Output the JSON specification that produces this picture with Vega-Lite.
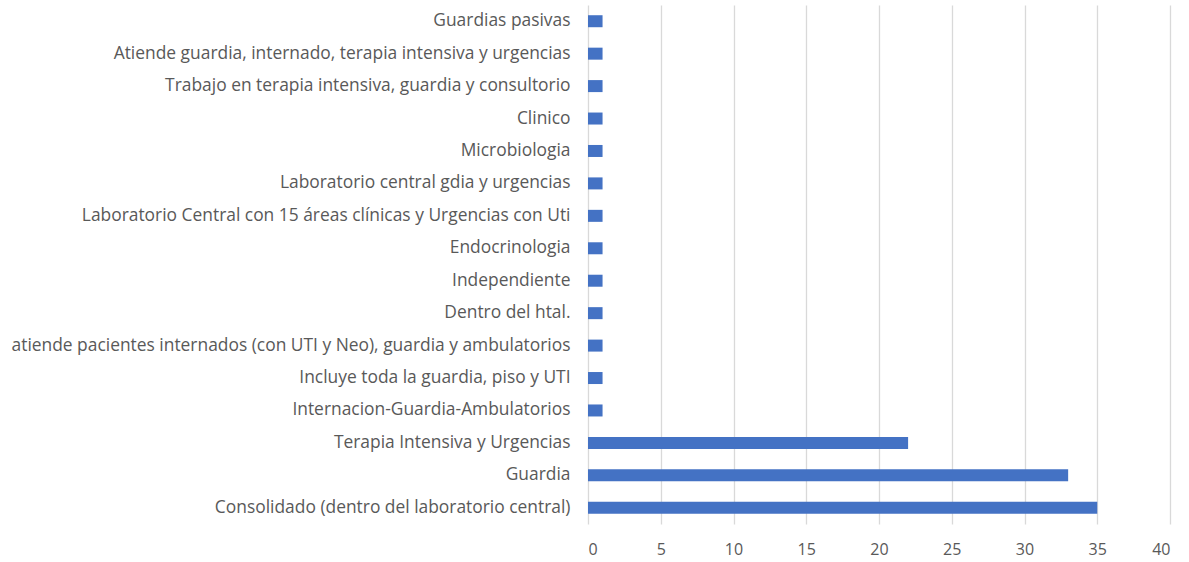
{
  "$schema": "https://vega.github.io/schema/vega-lite/v6.json",
  "autosize": "none",
  "width": 582,
  "height": 519,
  "padding": {"left": 588, "top": 5, "right": 19, "bottom": 38},
  "background": "white",
  "config": {"view": {"stroke": null}},
  "data": {
    "values": [
      {"categoria": "Guardias pasivas", "valor": 1},
      {"categoria": "Atiende guardia, internado, terapia intensiva y urgencias", "valor": 1},
      {"categoria": "Trabajo en terapia intensiva, guardia y consultorio", "valor": 1},
      {"categoria": "Clinico", "valor": 1},
      {"categoria": "Microbiologia", "valor": 1},
      {"categoria": "Laboratorio central gdia y urgencias", "valor": 1},
      {"categoria": "Laboratorio Central con 15 áreas clínicas y Urgencias con Uti", "valor": 1},
      {"categoria": "Endocrinologia", "valor": 1},
      {"categoria": "Independiente", "valor": 1},
      {"categoria": "Dentro del htal.", "valor": 1},
      {"categoria": "atiende pacientes internados (con UTI y Neo), guardia y ambulatorios", "valor": 1},
      {"categoria": "Incluye toda la guardia, piso y UTI", "valor": 1},
      {"categoria": "Internacion-Guardia-Ambulatorios", "valor": 1},
      {"categoria": "Terapia Intensiva y Urgencias", "valor": 22},
      {"categoria": "Guardia", "valor": 33},
      {"categoria": "Consolidado (dentro del laboratorio central)", "valor": 35}
    ]
  },
  "mark": {"type": "bar", "color": "#4472C4"},
  "encoding": {
    "y": {
      "field": "categoria",
      "type": "nominal",
      "sort": null,
      "scale": {"paddingInner": 0.63, "paddingOuter": 0.315},
      "axis": {
        "title": null,
        "ticks": false,
        "domain": false,
        "labelPadding": 18,
        "labelFont": "Open Sans",
        "labelFontSize": 17.4,
        "labelColor": "#595959",
        "labelLimit": 600
      }
    },
    "x": {
      "field": "valor",
      "type": "quantitative",
      "scale": {"domain": [0, 40], "nice": false},
      "axis": {
        "title": null,
        "values": [0, 5, 10, 15, 20, 25, 30, 35, 40],
        "ticks": false,
        "domain": false,
        "grid": true,
        "gridColor": "#d9d9d9",
        "gridWidth": 1.3,
        "labelPadding": 17,
        "labelFont": "Open Sans",
        "labelFontSize": 16,
        "labelColor": "#595959"
      }
    }
  }
}
